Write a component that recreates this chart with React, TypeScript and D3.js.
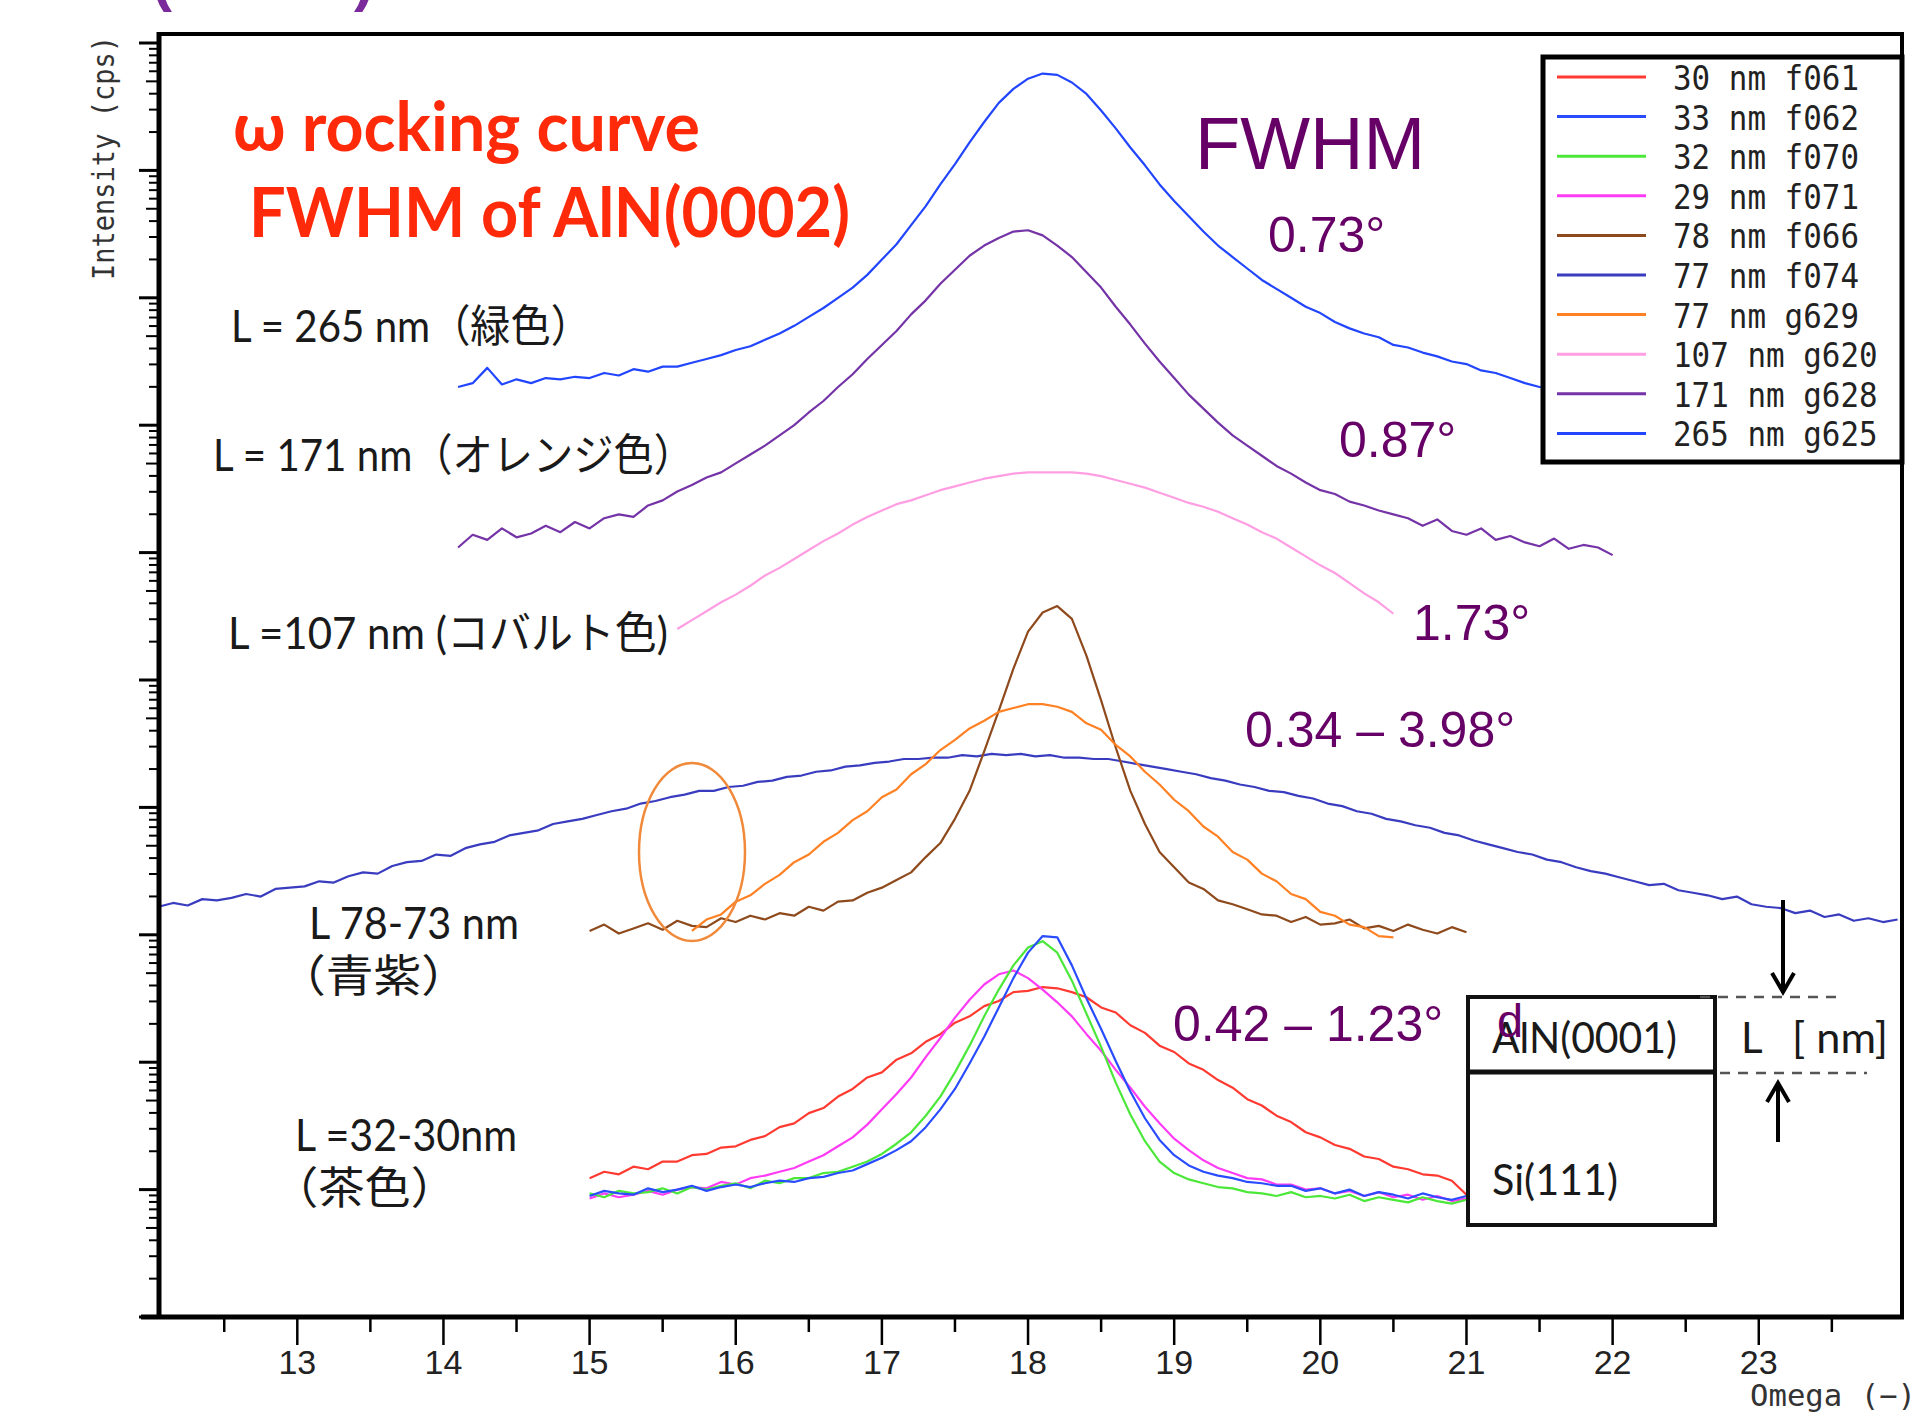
import React, { useEffect, useRef } from "react";
import * as d3 from "d3";

// log10 intensity, sampled every 0.1 deg of omega from each series' start angle
const f061 = [1.09, 1.14, 1.12, 1.18, 1.16, 1.22, 1.22, 1.27, 1.28, 1.33, 1.34, 1.39, 1.42, 1.49, 1.52, 1.6, 1.64, 1.73, 1.79, 1.88, 1.92, 2.02, 2.07, 2.16, 2.22, 2.31, 2.36, 2.44, 2.48, 2.55, 2.56, 2.59, 2.58, 2.55, 2.51, 2.43, 2.39, 2.29, 2.23, 2.13, 2.08, 1.99, 1.94, 1.86, 1.8, 1.71, 1.66, 1.58, 1.53, 1.45, 1.41, 1.35, 1.32, 1.26, 1.24, 1.18, 1.16, 1.12, 1.11, 1.07, 0.96];
const f062 = [0.95, 0.99, 0.97, 0.96, 1.01, 0.98, 1.0, 1.03, 0.99, 1.02, 1.04, 1.02, 1.05, 1.07, 1.06, 1.09, 1.1, 1.13, 1.15, 1.2, 1.25, 1.31, 1.38, 1.49, 1.63, 1.79, 1.99, 2.2, 2.43, 2.66, 2.86, 2.99, 2.98, 2.76, 2.5, 2.26, 2.01, 1.77, 1.56, 1.39, 1.27, 1.19, 1.14, 1.11, 1.09, 1.06, 1.05, 1.03, 1.03, 0.99, 1.01, 0.97, 1.0, 0.95, 0.98, 0.96, 0.93, 0.97, 0.94, 0.92, 0.95];
const f070 = [0.97, 0.94, 0.99, 0.97, 0.98, 1.01, 0.97, 1.02, 1.0, 1.03, 1.05, 1.01, 1.07, 1.05, 1.09, 1.09, 1.13, 1.14, 1.18, 1.22, 1.28, 1.36, 1.45, 1.58, 1.73, 1.92, 2.13, 2.36, 2.57, 2.76, 2.9, 2.95, 2.86, 2.64, 2.38, 2.12, 1.84, 1.59, 1.38, 1.22, 1.13, 1.08, 1.05, 1.02, 1.01, 0.98, 0.97, 0.95, 0.98, 0.94, 0.95, 0.93, 0.96, 0.91, 0.94, 0.92, 0.9, 0.94, 0.91, 0.89, 0.92];
const f071 = [0.93, 0.97, 0.94, 0.96, 0.99, 0.96, 1.0, 1.02, 1.01, 1.06, 1.04, 1.09, 1.11, 1.14, 1.17, 1.22, 1.27, 1.34, 1.41, 1.51, 1.63, 1.75, 1.88, 2.04, 2.19, 2.35, 2.49, 2.61, 2.69, 2.72, 2.66, 2.57, 2.47, 2.36, 2.22, 2.09, 1.94, 1.8, 1.65, 1.52, 1.4, 1.31, 1.23, 1.17, 1.13, 1.09, 1.08, 1.04, 1.04, 1.0, 1.01, 0.97, 0.99, 0.95, 0.98, 0.94, 0.96, 0.92, 0.95, 0.91, 0.93];
const f066 = [3.03, 3.08, 3.01, 3.05, 3.09, 3.04, 3.11, 3.07, 3.06, 3.13, 3.1, 3.15, 3.12, 3.17, 3.15, 3.22, 3.19, 3.26, 3.27, 3.33, 3.37, 3.43, 3.49, 3.61, 3.72, 3.91, 4.13, 4.44, 4.76, 5.09, 5.38, 5.53, 5.58, 5.48, 5.19, 4.84, 4.47, 4.13, 3.87, 3.65, 3.53, 3.41, 3.36, 3.27, 3.24, 3.2, 3.16, 3.15, 3.1, 3.14, 3.08, 3.09, 3.12, 3.05, 3.07, 3.03, 3.08, 3.04, 3.01, 3.06, 3.02];
const f074 = [3.22, 3.25, 3.23, 3.28, 3.27, 3.29, 3.32, 3.3, 3.36, 3.37, 3.38, 3.42, 3.41, 3.46, 3.49, 3.48, 3.54, 3.57, 3.58, 3.63, 3.62, 3.68, 3.71, 3.73, 3.78, 3.8, 3.82, 3.87, 3.89, 3.91, 3.94, 3.97, 3.99, 4.03, 4.05, 4.08, 4.1, 4.13, 4.13, 4.16, 4.17, 4.2, 4.21, 4.24, 4.25, 4.28, 4.29, 4.32, 4.33, 4.35, 4.36, 4.38, 4.38, 4.39, 4.39, 4.41, 4.4, 4.42, 4.41, 4.42, 4.4, 4.41, 4.39, 4.39, 4.38, 4.38, 4.36, 4.34, 4.32, 4.3, 4.28, 4.26, 4.23, 4.21, 4.18, 4.16, 4.13, 4.12, 4.09, 4.07, 4.03, 4.01, 3.97, 3.95, 3.91, 3.89, 3.86, 3.84, 3.8, 3.78, 3.74, 3.71, 3.68, 3.65, 3.63, 3.59, 3.57, 3.53, 3.5, 3.48, 3.45, 3.42, 3.39, 3.4, 3.35, 3.33, 3.31, 3.28, 3.3, 3.24, 3.22, 3.21, 3.17, 3.19, 3.14, 3.16, 3.11, 3.13, 3.1, 3.12];
const g629 = [3.03, 3.12, 3.16, 3.26, 3.31, 3.4, 3.47, 3.57, 3.63, 3.73, 3.8, 3.9, 3.97, 4.08, 4.14, 4.26, 4.34, 4.45, 4.53, 4.62, 4.68, 4.75, 4.78, 4.81, 4.81, 4.79, 4.75, 4.66, 4.61, 4.49, 4.4, 4.28, 4.18, 4.06, 3.97, 3.85, 3.77, 3.65, 3.59, 3.48, 3.42, 3.32, 3.28, 3.18, 3.15, 3.08, 3.06, 2.99, 2.98];
const g620 = [5.4, 5.47, 5.54, 5.61, 5.67, 5.74, 5.82, 5.88, 5.95, 6.02, 6.09, 6.15, 6.22, 6.28, 6.33, 6.38, 6.41, 6.45, 6.49, 6.52, 6.55, 6.58, 6.6, 6.62, 6.63, 6.63, 6.63, 6.63, 6.62, 6.6, 6.57, 6.54, 6.51, 6.47, 6.43, 6.39, 6.36, 6.32, 6.27, 6.22, 6.16, 6.11, 6.04, 5.97, 5.9, 5.84, 5.76, 5.68, 5.61, 5.52];
const g628 = [6.04, 6.14, 6.1, 6.19, 6.12, 6.15, 6.21, 6.16, 6.24, 6.19, 6.27, 6.3, 6.28, 6.37, 6.41, 6.48, 6.53, 6.59, 6.63, 6.7, 6.77, 6.84, 6.92, 7.0, 7.1, 7.19, 7.3, 7.4, 7.52, 7.63, 7.74, 7.87, 7.98, 8.11, 8.22, 8.33, 8.41, 8.47, 8.52, 8.53, 8.49, 8.41, 8.32, 8.2, 8.08, 7.93, 7.79, 7.64, 7.5, 7.37, 7.24, 7.13, 7.02, 6.92, 6.84, 6.76, 6.68, 6.62, 6.55, 6.49, 6.46, 6.4, 6.37, 6.33, 6.3, 6.27, 6.21, 6.26, 6.17, 6.14, 6.19, 6.1, 6.13, 6.08, 6.05, 6.11, 6.03, 6.06, 6.04, 5.98];
const g625 = [7.3, 7.33, 7.45, 7.32, 7.36, 7.33, 7.37, 7.36, 7.38, 7.37, 7.41, 7.39, 7.44, 7.42, 7.46, 7.46, 7.49, 7.52, 7.55, 7.59, 7.62, 7.67, 7.72, 7.78, 7.85, 7.92, 8.0, 8.08, 8.18, 8.3, 8.42, 8.57, 8.72, 8.89, 9.05, 9.22, 9.38, 9.53, 9.64, 9.72, 9.76, 9.75, 9.69, 9.6, 9.47, 9.33, 9.18, 9.04, 8.89, 8.76, 8.64, 8.52, 8.41, 8.32, 8.23, 8.14, 8.07, 8.0, 7.93, 7.88, 7.81, 7.76, 7.72, 7.69, 7.63, 7.61, 7.57, 7.54, 7.5, 7.48, 7.43, 7.41, 7.37, 7.33, 7.3, 7.29, 7.25, 7.25, 7.22, 7.21];

const seriesNames = ["30 nm f061", "33 nm f062", "32 nm f070", "29 nm f071", "78 nm f066", "77 nm f074", "77 nm g629", "107 nm g620", "171 nm g628", "265 nm g625"];
const seriesValues = [f061, f062, f070, f071, f066, f074, g629, g620, g628, g625];
const seriesStart = [15.0, 15.0, 15.0, 15.0, 15.0, 12.05, 15.7, 15.6, 14.1, 14.1];
const seriesColors = ["#ff3a30", "#2a4cff", "#4be83a", "#ff3cf5", "#8e4a1c", "#3a3cc0", "#ff8124", "#ff9ee2", "#7433a6", "#2246ff"];
const omegaStep = 0.1;

const xTicks = [13, 14, 15, 16, 17, 18, 19, 20, 21, 22, 23];
const xMinorTicks = [12.5, 13.5, 14.5, 15.5, 16.5, 17.5, 18.5, 19.5, 20.5, 21.5, 22.5, 23.5];

const sampleLabels = [
  { text: "L = 265 nm（緑色）", x: 231, y: 342, len: 360 },
  { text: "L = 171 nm（オレンジ色）", x: 213, y: 471, len: 481 },
  { text: "L =107 nm (コバルト色)", x: 228, y: 649, len: 440 },
  { text: "L 78-73 nm", x: 309, y: 939, len: 210 },
  { text: "（青紫）", x: 278, y: 992, len: 191 },
  { text: "L =32-30nm", x: 295, y: 1151, len: 222 },
  { text: "（茶色）", x: 272, y: 1204, len: 185 },
];
const fwhmLabels = [
  { text: "0.73°", x: 1268, y: 252 },
  { text: "0.87°", x: 1339, y: 457 },
  { text: "1.73°", x: 1413, y: 640 },
  { text: "0.34 – 3.98°", x: 1245, y: 747 },
  { text: "0.42 – 1.23°", x: 1173, y: 1041 },
];

const W = 1920;
const H = 1416;
const SANS_JP = "Lato, 'Noto Sans CJK JP', sans-serif";
const ARIAL = "'Liberation Sans', Arial, sans-serif";
const GOTHIC = "'DejaVu Sans Mono', monospace";

export default function App() {
  const svgRef = useRef(null);

  useEffect(() => {
    const svg = d3.select(svgRef.current);
    svg.selectAll("*").remove();

    const left = 157, right = 1902, top = 34, bottom = 1317;
    const x = d3.scaleLinear().domain([12.04, 23.98]).range([left, right]);
    const y = d3.scaleLog().domain([1, 1e10]).range([bottom, 43]);

    svg.append("rect").attr("width", W).attr("height", H).attr("fill", "#fff");

    // cut-off line at the very top
    svg.append("text").attr("x", 152).attr("y", 0).text("(")
      .style("font", `bold 60px ${ARIAL}`).attr("fill", "#7a2a9a");
    svg.append("text").attr("x", 354).attr("y", 0).text(")")
      .style("font", `bold 60px ${ARIAL}`).attr("fill", "#7a2a9a");

    // curves
    const line = d3.line().x((d) => x(d[0])).y((d) => y(d[1]));
    const order = [5, 7, 8, 9, 4, 6, 0, 3, 2, 1];
    order.forEach((s) => {
      const pts = seriesValues[s].map((v, i) => [seriesStart[s] + i * omegaStep, Math.pow(10, v)]);
      svg.append("path")
        .attr("d", line(pts))
        .attr("fill", "none")
        .attr("stroke", seriesColors[s])
        .attr("stroke-width", 2.2)
        .attr("stroke-linejoin", "round");
    });

    // frame
    svg.append("path")
      .attr("d", `M${left},${top}H${right}V${bottom}`)
      .attr("fill", "none").attr("stroke", "#000").attr("stroke-width", 4);
    svg.append("line").attr("x1", left + 2).attr("x2", left + 2).attr("y1", top - 2).attr("y2", bottom + 2)
      .attr("stroke", "#000").attr("stroke-width", 5);
    svg.append("line").attr("x1", 141).attr("x2", right + 2).attr("y1", bottom).attr("y2", bottom)
      .attr("stroke", "#000").attr("stroke-width", 5);

    // y ticks (log decades, no labels)
    const yTicks = [];
    for (let k = 0; k < 10; k++) for (let m = 1; m <= 9; m++) yTicks.push([m * Math.pow(10, k), m]);
    yTicks.push([1e10, 1]);
    svg.append("g").selectAll("line").data(yTicks).join("line")
      .attr("x1", (d) => (d[1] === 1 ? 139 : d[1] === 5 ? 146 : 149))
      .attr("x2", left)
      .attr("y1", (d) => y(d[0])).attr("y2", (d) => y(d[0]))
      .attr("stroke", "#000").attr("stroke-width", (d) => (d[1] === 1 ? 3 : 2));

    // x ticks
    const gx = svg.append("g");
    gx.selectAll("line.major").data(xTicks).join("line").attr("class", "major")
      .attr("x1", (d) => x(d)).attr("x2", (d) => x(d))
      .attr("y1", bottom).attr("y2", bottom + 28)
      .attr("stroke", "#000").attr("stroke-width", 2.5);
    gx.selectAll("line.minor").data(xMinorTicks).join("line").attr("class", "minor")
      .attr("x1", (d) => x(d)).attr("x2", (d) => x(d))
      .attr("y1", bottom).attr("y2", bottom + 15)
      .attr("stroke", "#000").attr("stroke-width", 2.5);
    gx.selectAll("text").data(xTicks).join("text")
      .attr("x", (d) => x(d)).attr("y", 1374)
      .attr("text-anchor", "middle")
      .style("font", `34px ${ARIAL}`).attr("fill", "#222")
      .text((d) => d);

    svg.append("text").attr("x", 1750).attr("y", 1406)
      .attr("textLength", 166).attr("lengthAdjust", "spacingAndGlyphs")
      .style("font", `30px ${GOTHIC}`).attr("fill", "#333").text("Omega (−)");
    svg.append("text").attr("transform", "translate(114,280) rotate(-90)")
      .attr("textLength", 244).attr("lengthAdjust", "spacingAndGlyphs")
      .style("font", `30px ${GOTHIC}`).attr("fill", "#333").text("Intensity (cps)");

    // titles
    svg.append("text").attr("x", 233).attr("y", 151)
      .attr("textLength", 467).attr("lengthAdjust", "spacingAndGlyphs")
      .style("font", `bold 68px ${SANS_JP}`).attr("fill", "#ff2a0a").text("ω rocking curve");
    svg.append("text").attr("x", 249).attr("y", 237)
      .attr("textLength", 601).attr("lengthAdjust", "spacingAndGlyphs")
      .style("font", `bold 68px ${SANS_JP}`).attr("fill", "#ff2a0a").text("FWHM of AlN(0002)");

    svg.append("text").attr("x", 1195).attr("y", 169)
      .style("font", `74px ${ARIAL}`).attr("fill", "#660066").text("FWHM");
    svg.append("g").selectAll("text").data(fwhmLabels).join("text")
      .attr("x", (d) => d.x).attr("y", (d) => d.y)
      .style("font", `50px ${ARIAL}`).attr("fill", "#660066")
      .text((d) => d.text);

    svg.append("g").selectAll("text").data(sampleLabels).join("text")
      .attr("x", (d) => d.x).attr("y", (d) => d.y)
      .attr("textLength", (d) => d.len).attr("lengthAdjust", "spacingAndGlyphs")
      .style("font", `44px ${SANS_JP}`).attr("fill", "#1a1a1a")
      .text((d) => d.text);

    // highlight ellipse
    svg.append("ellipse").attr("cx", 692).attr("cy", 852).attr("rx", 53).attr("ry", 89)
      .attr("fill", "none").attr("stroke", "#f08a3a").attr("stroke-width", 2.5);

    // legend
    const lg = svg.append("g");
    lg.append("rect").attr("x", 1543).attr("y", 57).attr("width", 359).attr("height", 405)
      .attr("fill", "#fff").attr("stroke", "#000").attr("stroke-width", 5);
    seriesNames.forEach((name, i) => {
      const ry = 77 + i * 39.6;
      lg.append("line").attr("x1", 1557).attr("x2", 1646).attr("y1", ry).attr("y2", ry)
        .attr("stroke", seriesColors[i]).attr("stroke-width", 3);
      lg.append("text").attr("x", 1673).attr("y", ry + 13)
        .attr("textLength", name.length * 18.6).attr("lengthAdjust", "spacingAndGlyphs")
        .style("font", `34px ${GOTHIC}`).attr("fill", "#222").text(name);
    });

    // layer sketch
    const sk = svg.append("g");
    sk.append("rect").attr("x", 1468).attr("y", 997).attr("width", 247).attr("height", 228)
      .attr("fill", "#fff").attr("stroke", "#111").attr("stroke-width", 4);
    sk.append("line").attr("x1", 1468).attr("x2", 1715).attr("y1", 1072).attr("y2", 1072)
      .attr("stroke", "#111").attr("stroke-width", 5);
    sk.append("text").attr("x", 1492).attr("y", 1053)
      .attr("textLength", 185).attr("lengthAdjust", "spacingAndGlyphs")
      .style("font", `42px ${SANS_JP}`).attr("fill", "#1a1a1a").text("AlN(0001)");
    sk.append("text").attr("x", 1492).attr("y", 1195)
      .attr("textLength", 126).attr("lengthAdjust", "spacingAndGlyphs")
      .style("font", `42px ${SANS_JP}`).attr("fill", "#1a1a1a").text("Si(111)");
    sk.append("text").attr("x", 1497).attr("y", 1037)
      .style("font", `47px ${ARIAL}`).attr("fill", "#660066").text("d");
    sk.append("text").attr("x", 1741).attr("y", 1053)
      .style("font", `42px ${SANS_JP}`).attr("fill", "#1a1a1a").text("L");
    sk.append("text").attr("x", 1792).attr("y", 1053)
      .attr("textLength", 96).attr("lengthAdjust", "spacingAndGlyphs")
      .style("font", `42px ${SANS_JP}`).attr("fill", "#1a1a1a").text("[ nm]");
    [[1700, 1838, 997], [1720, 1867, 1073]].forEach(([a, b, yy]) => {
      sk.append("line").attr("x1", a).attr("x2", b).attr("y1", yy).attr("y2", yy)
        .attr("stroke", "#555").attr("stroke-width", 2.5).attr("stroke-dasharray", "10 8");
    });
    sk.append("path").attr("d", "M1783,900V990M1772,973L1783,992L1794,973")
      .attr("fill", "none").attr("stroke", "#000").attr("stroke-width", 4);
    sk.append("path").attr("d", "M1778,1142V1086M1767,1102L1778,1083L1789,1102")
      .attr("fill", "none").attr("stroke", "#000").attr("stroke-width", 4);
  }, []);

  return (
    <svg
      ref={svgRef}
      width={W}
      height={H}
      style={{ position: "absolute", left: 0, top: 0, display: "block" }}
    />
  );
}
